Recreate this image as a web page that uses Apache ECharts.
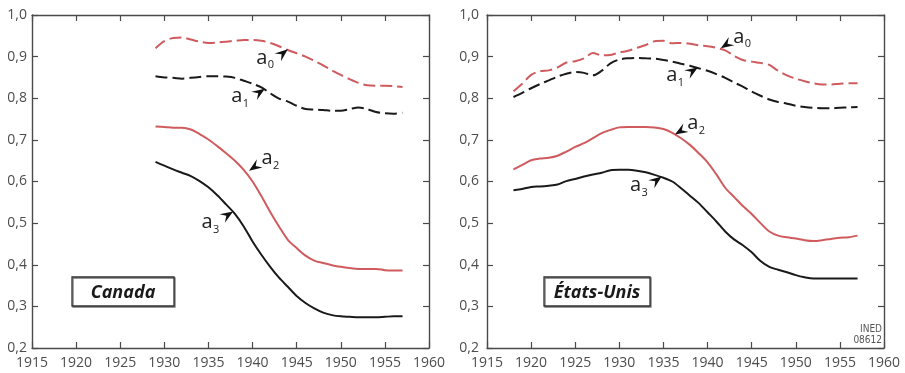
<!DOCTYPE html>
<html><head><meta charset="utf-8">
<script src="https://cdn.jsdelivr.net/npm/echarts@6/dist/echarts.min.js"></script>
<style>html,body{margin:0;padding:0;background:#fff}#c{width:905px;height:373px}</style>
</head><body><div id="c"></div>
<script>
// ---- data ----
const caYears = [1929,1930,1931,1932,1933,1934,1935,1936,1937,1938,1939,1940,1941,1942,1943,1944,1945,1946,1947,1948,1949,1950,1951,1952,1953,1954,1955,1956,1957];
const caA0 = [0.920,0.937,0.945,0.946,0.941,0.936,0.933,0.934,0.936,0.938,0.940,0.940,0.938,0.933,0.925,0.916,0.908,0.900,0.890,0.879,0.867,0.856,0.846,0.837,0.831,0.830,0.830,0.829,0.827];
const caA1 = [0.853,0.850,0.849,0.847,0.849,0.851,0.853,0.853,0.852,0.849,0.842,0.835,0.826,0.812,0.799,0.792,0.782,0.774,0.773,0.772,0.770,0.770,0.774,0.778,0.774,0.767,0.764,0.763,0.765];
const caA2 = [0.732,0.731,0.729,0.729,0.725,0.714,0.701,0.685,0.668,0.650,0.628,0.600,0.565,0.527,0.492,0.460,0.440,0.422,0.410,0.404,0.399,0.395,0.392,0.390,0.390,0.390,0.387,0.386,0.386];
const caA3 = [0.647,0.638,0.629,0.621,0.613,0.601,0.586,0.567,0.545,0.522,0.492,0.456,0.424,0.395,0.369,0.347,0.325,0.308,0.295,0.285,0.279,0.276,0.275,0.274,0.274,0.274,0.275,0.276,0.276];

const usYears = [1918,1919,1920,1921,1922,1923,1924,1925,1926,1927,1928,1929,1930,1931,1932,1933,1934,1935,1936,1937,1938,1939,1940,1941,1942,1943,1944,1945,1946,1947,1948,1949,1950,1951,1952,1953,1954,1955,1956,1957];
const usA0 = [0.817,0.835,0.856,0.865,0.867,0.874,0.886,0.889,0.896,0.909,0.903,0.904,0.910,0.914,0.921,0.928,0.937,0.938,0.932,0.933,0.931,0.927,0.925,0.921,0.915,0.902,0.892,0.888,0.885,0.880,0.866,0.855,0.847,0.841,0.836,0.833,0.833,0.835,0.836,0.836];
const usA1 = [0.803,0.813,0.824,0.834,0.843,0.852,0.859,0.863,0.861,0.855,0.866,0.884,0.893,0.896,0.897,0.896,0.895,0.892,0.888,0.883,0.878,0.872,0.866,0.858,0.849,0.838,0.828,0.816,0.806,0.797,0.791,0.787,0.782,0.779,0.777,0.776,0.776,0.777,0.778,0.779];
const usA2 = [0.629,0.640,0.651,0.655,0.657,0.662,0.672,0.683,0.692,0.704,0.716,0.724,0.730,0.731,0.731,0.731,0.730,0.726,0.717,0.704,0.688,0.668,0.646,0.617,0.585,0.563,0.541,0.522,0.500,0.480,0.470,0.466,0.463,0.459,0.457,0.459,0.462,0.465,0.466,0.470];
const usA3 = [0.579,0.582,0.587,0.588,0.590,0.593,0.601,0.606,0.612,0.617,0.621,0.627,0.628,0.628,0.626,0.622,0.616,0.609,0.600,0.584,0.566,0.548,0.526,0.504,0.480,0.461,0.447,0.430,0.409,0.395,0.388,0.382,0.375,0.370,0.367,0.367,0.367,0.367,0.367,0.367];

const xTicks = {min:1915, max:1960, interval:5};
const yTicks = {min:0.2, max:1.0, interval:0.1};
const panelTitles = ["Canada", "États-Unis"];
const seriesNames = ["0","1","2","3"];
// annotation anchors: [year, value] on curves
const caNotes = [[1944.0,0.918],[1941.4,0.823],[1939.6,0.626],[1937.8,0.528]];
const usNotes = [[1941.5,0.920],[1938.9,0.874],[1936.3,0.713],[1934.8,0.612]];

// ---- styles ----
const RED = '#cf5b5e', BLK = '#1a1a1a', AX = '#4a4a4a', LBL = '#4d4d4d';
const FONT = '"Open Sans", sans-serif';
const grids = [
  {left:32, right:476, top:15, bottom:25},
  {left:487, right:21, top:15, bottom:25}
];
function pairs(xs, ys){ return xs.map((x,i)=>[x, ys[i]]); }

const xAxes = [], yAxes = [], series = [];
grids.forEach((g, gi) => {
  xAxes.push({type:'value', gridIndex:gi, min:xTicks.min, max:xTicks.max, interval:xTicks.interval,
    axisLine:{show:true, onZero:false, lineStyle:{color:AX, width:1.4}},
    axisTick:{show:true, inside:true, length:6, lineStyle:{color:AX, width:1.2}},
    axisLabel:{color:LBL, fontSize:14, fontFamily:FONT, margin:8, formatter:v=>String(v)},
    splitLine:{show:false}});
  xAxes.push({type:'value', gridIndex:gi, position:'top', min:xTicks.min, max:xTicks.max, interval:xTicks.interval,
    axisLine:{show:true, onZero:false, lineStyle:{color:AX, width:1.4}},
    axisTick:{show:true, inside:true, length:6, lineStyle:{color:AX, width:1.2}},
    axisLabel:{show:false}, splitLine:{show:false}});
  yAxes.push({type:'value', gridIndex:gi, min:yTicks.min, max:yTicks.max, interval:yTicks.interval,
    axisLine:{show:true, onZero:false, lineStyle:{color:AX, width:1.4}},
    axisTick:{show:true, inside:true, length:6, lineStyle:{color:AX, width:1.2}},
    axisLabel:{color:LBL, fontSize:14, fontFamily:FONT, margin:gi===0?5:8, formatter:v=>v.toFixed(1).replace('.',',')},
    splitLine:{show:false}});
  yAxes.push({type:'value', gridIndex:gi, position:'right', min:yTicks.min, max:yTicks.max, interval:yTicks.interval,
    axisLine:{show:true, onZero:false, lineStyle:{color:AX, width:1.4}},
    axisTick:{show:true, inside:true, length:6, lineStyle:{color:AX, width:1.2}},
    axisLabel:{show:false}, splitLine:{show:false}});
});

function addSeries(gi, xs, data){
  const styles = [
    {color:RED, type:[12,5]},
    {color:BLK, type:[12,5]},
    {color:RED, type:'solid'},
    {color:BLK, type:'solid'}
  ];
  data.forEach((ys, k) => {
    series.push({type:'line', name:'a'+seriesNames[k]+'_'+gi, xAxisIndex:gi*2, yAxisIndex:gi*2,
      data:pairs(xs, ys), smooth:0.3, showSymbol:false, symbol:'none', silent:true, animation:false,
      lineStyle:{color:styles[k].color, width:2, type:styles[k].type}});
  });
}
addSeries(0, caYears, [caA0, caA1, caA2, caA3]);
addSeries(1, usYears, [usA0, usA1, usA2, usA3]);

const chart = echarts.init(document.getElementById('c'), null, {renderer:'canvas'});
chart.setOption({animation:false, grid:grids, xAxis:xAxes, yAxis:yAxes, series:series});

// ---- annotations ----
// direction (dx,dy) from label toward tip, and label-center offset from tip
const caDirs = [[11,-9,-22,8],[12,-8,-24,7],[-13,9,22,-13],[11,-7,-22,10]];
const usDirs = [[-12,8,22,-12],[11,-7,-22,7],[-13,8,22,-12],[12,-9,-22,8]];
const gfx = [];
function arrowPoly(tip, dx, dy){
  const L = Math.hypot(dx,dy), ux = dx/L, uy = dy/L, px = -uy, py = ux;
  const len = 13, w = 5;
  const back = [tip[0]-ux*len, tip[1]-uy*len];
  const notch = [tip[0]-ux*len*0.62, tip[1]-uy*len*0.62];
  return [tip, [back[0]+px*w, back[1]+py*w], notch, [back[0]-px*w, back[1]-py*w]];
}
function addNotes(gi, notes, dirs){
  notes.forEach((n, k) => {
    const tip = chart.convertToPixel({gridIndex:gi}, n);
    const d = dirs[k];
    gfx.push({type:'polygon', shape:{points:arrowPoly(tip, d[0], d[1])}, style:{fill:'#111'}, z:100});
    const cx = tip[0]+d[2], cy = tip[1]+d[3];
    gfx.push({type:'text', x:cx-4, y:cy+1, style:{text:'a', font:'20px '+FONT, fill:'#222', align:'center', verticalAlign:'middle'}, z:100});
    gfx.push({type:'text', x:cx+5, y:cy+8, style:{text:seriesNames[k], font:'11px '+FONT, fill:'#222', align:'center', verticalAlign:'middle'}, z:100});
  });
}
addNotes(0, caNotes, caDirs);
addNotes(1, usNotes, usDirs);

// title boxes
const boxes = [[72,277,102,29],[544,277,106,29]];
boxes.forEach((b, i) => {
  gfx.push({type:'rect', shape:{x:b[0], y:b[1], width:b[2], height:b[3]},
    style:{fill:'#fff', stroke:'#333', lineWidth:1.3, shadowColor:'#777', shadowOffsetX:1, shadowOffsetY:1, shadowBlur:0}, z:90});
  gfx.push({type:'text', x:b[0]+b[2]/2, y:b[1]+b[3]/2+1,
    style:{text:panelTitles[i], font:'italic bold 18px '+FONT, fill:'#1a1a1a', align:'center', verticalAlign:'middle'}, z:91});
});
gfx.push({type:'text', x:882, y:329, style:{text:'INED', font:'10px "DejaVu Sans Condensed", sans-serif', fill:'#555', align:'right', verticalAlign:'middle'}, z:95});
gfx.push({type:'text', x:882, y:340, style:{text:'08612', font:'10px "DejaVu Sans Condensed", sans-serif', fill:'#555', align:'right', verticalAlign:'middle'}, z:95});

chart.setOption({graphic:gfx});
</script>
</body></html>
